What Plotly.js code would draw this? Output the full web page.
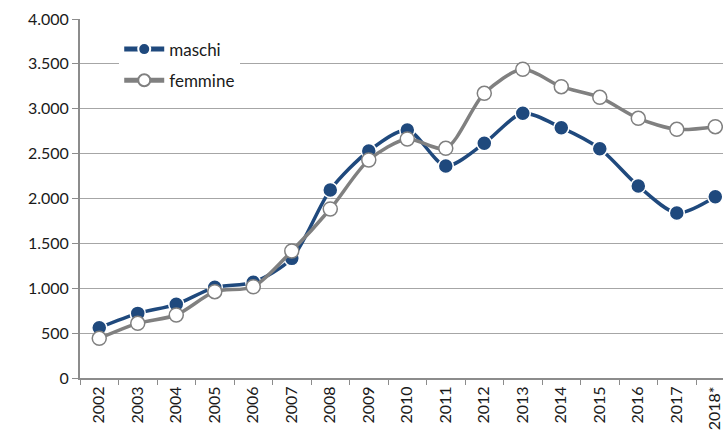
<!DOCTYPE html>
<html><head><meta charset="utf-8">
<script src="https://cdn.plot.ly/plotly-3.0.1.min.js"></script>
<style>html,body{margin:0;padding:0;overflow:hidden;background:#fff}</style>
</head><body>
<div id="chart" style="width:723px;height:437px"></div>
<script>
const years = ["2002","2003","2004","2005","2006","2007","2008","2009","2010","2011","2012","2013","2014","2015","2016","2017","2018*"];
const maschi = [560,720,821,1010,1066,1333,2095,2529,2763,2362,2615,2949,2789,2555,2139,1838,2020];
const femmine = [442,609,702,962,1017,1415,1883,2429,2663,2559,3172,3440,3246,3127,2893,2771,2800];
const yTicks = [0,500,1000,1500,2000,2500,3000,3500,4000];

const traces = [
  {x: years, y: maschi, name: "maschi", legendgroup: "m", type: "scatter", mode: "lines+markers",
   line: {color: "#1f497d", width: 3.5, shape: "spline", smoothing: 0.8},
   marker: {color: "#1f497d", size: 15, line: {color: "#ffffff", width: 1.5}},
   cliponaxis: false},
  {x: years, y: femmine, name: "femmine", legendgroup: "f", type: "scatter", mode: "lines+markers",
   line: {color: "#808080", width: 3.5, shape: "spline", smoothing: 0.8},
   marker: {color: "#ffffff", size: 14, line: {color: "#808080", width: 1.5}},
   cliponaxis: false}
];

const layout = {
  width: 723, height: 437,
  margin: {l: 80, r: 0, t: 19, b: 59, pad: 0},
  paper_bgcolor: "#fff", plot_bgcolor: "#fff",
  separators: ",.",
  font: {family: "Lato, 'Liberation Sans', sans-serif", size: 16, color: "#1a1a1a"},
  showlegend: true,
  legend: {x: 0.061, y: 0.965, xanchor: "left", yanchor: "top", bgcolor: "#ffffff",
           font: {size: 17, color: "#1a1a1a"}, tracegroupgap: 6, itemwidth: 40,
           entrywidth: 120, itemsizing: "constant"},
  xaxis: {type: "category", range: [-0.5, 16.2], tickson: "boundaries",
          ticks: "outside", ticklen: 5, tickcolor: "#8c8c8c", tickangle: -90,
          showline: true, linecolor: "#8c8c8c", linewidth: 2, showgrid: false,
          tickfont: {size: 16}, zeroline: false, fixedrange: true},
  yaxis: {range: [0, 4000], tickvals: yTicks, tickformat: ",d",
          ticks: "outside", ticklen: 6, tickcolor: "#8c8c8c",
          showline: true, linecolor: "#8c8c8c", linewidth: 2,
          showgrid: true, gridcolor: "#a6a6a6", gridwidth: 1, zeroline: false,
          tickfont: {size: 16}, fixedrange: true}
};
Plotly.newPlot("chart", traces, layout, {displayModeBar: false, staticPlot: true});
</script>
</body></html>
